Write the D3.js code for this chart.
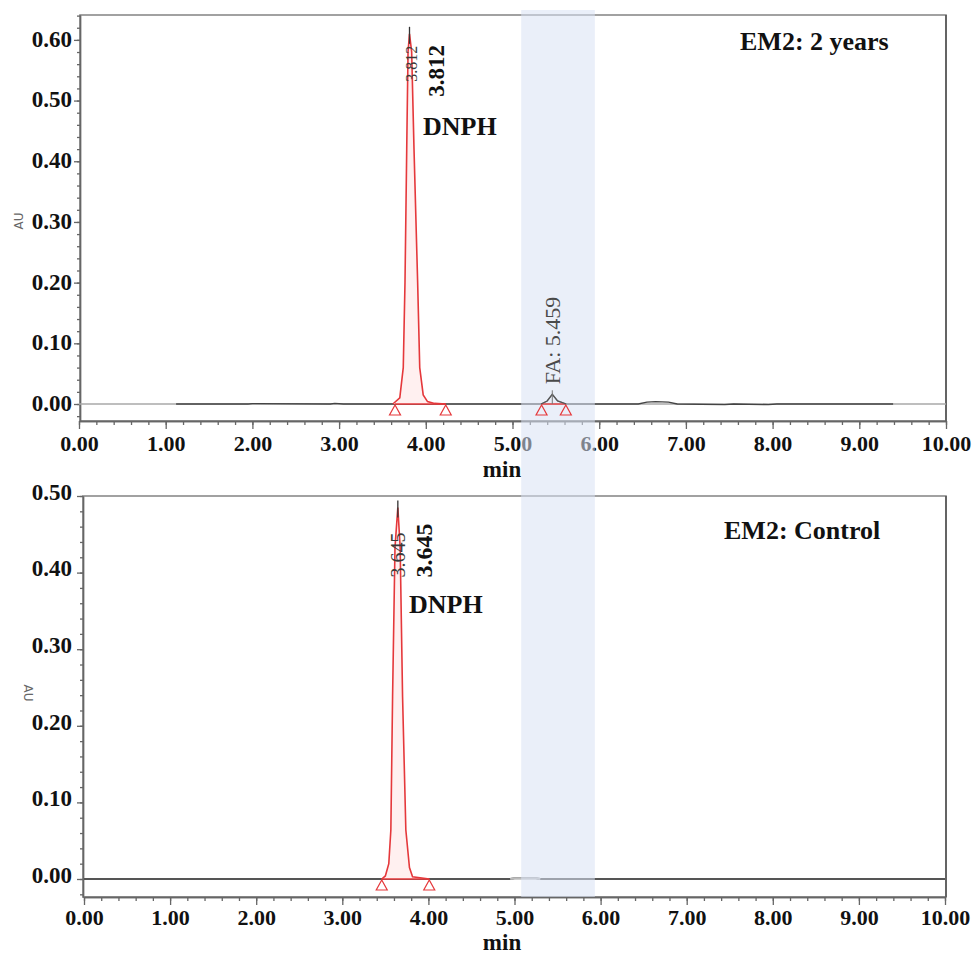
<!DOCTYPE html>
<html>
<head>
<meta charset="utf-8">
<script src="https://cdn.jsdelivr.net/npm/d3@7"></script>
<style>
  body { margin: 0; background: #fff; }
  svg text { font-family: "Liberation Serif", "Times New Roman", serif; }
</style>
</head>
<body>
<svg id="chart" width="973" height="955"></svg>
<script>
// ---- EM2 after 2 years: DNPH peak (integrated, red) ----
const agedPeakTime = [3.62, 3.70, 3.74, 3.76, 3.78, 3.795, 3.812, 3.837, 3.864, 3.906, 3.93, 3.97, 4.02, 4.10, 4.23];
const agedPeakAU   = [0.000, 0.010, 0.060, 0.200, 0.420, 0.580, 0.610, 0.580, 0.420, 0.200, 0.060, 0.015, 0.004, 0.001, 0.000];
const agedPeakLimits = [3.645, 4.23];

// ---- EM2 after 2 years: remaining detector trace (incl. formaldehyde peak) ----
const agedTraceTime = [1.12, 1.95, 2.00, 2.90, 2.95, 3.05, 3.62, 4.23, 5.00, 5.33, 5.40, 5.459, 5.52, 5.62, 6.45, 6.55, 6.65, 6.80, 6.90, 7.45, 7.55, 7.95, 8.05, 9.39];
const agedTraceAU   = [0, 0, 0.0005, 0, 0.001, 0, 0, 0, 0, 0, 0.005, 0.016, 0.005, 0, 0, 0.003, 0.004, 0.003, 0, -0.001, 0, -0.001, 0, 0];
const faPeakTime = 5.459;
const faPeakAU = 0.016;
const faPeakLimits = [5.335, 5.615];

// ---- EM2 control: DNPH peak and baseline ----
const controlPeakTime = [3.458, 3.50, 3.54, 3.564, 3.584, 3.612, 3.645, 3.672, 3.700, 3.738, 3.780, 3.816, 4.01];
const controlPeakAU   = [0.000, 0.004, 0.020, 0.064, 0.238, 0.433, 0.485, 0.433, 0.238, 0.064, 0.015, 0.003, 0.000];
const controlPeakLimits = [3.458, 4.01];
const controlTraceTime = [0, 4.95, 5.00, 5.25, 5.30, 10];
const controlTraceAU   = [0, 0, 0.001, 0.001, 0, 0];

// ---- Axes ----
const xMajorTicks = d3.range(0, 10.001, 1);
const xMinorTicks = d3.range(0, 10.001, 0.2);
const agedYMajor = [0, 0.1, 0.2, 0.3, 0.4, 0.5, 0.6];
const agedYMinor = d3.range(-0.02, 0.641, 0.02);
const controlYMajor = [0, 0.1, 0.2, 0.3, 0.4, 0.5];
const controlYMinor = d3.range(-0.02, 0.501, 0.02);
const highlightWindow = [5.10, 5.95];

const svg = d3.select("#chart");
const fmt = d3.format(".2f");
const RED = "#e5383b";

const panels = [
  {
    title: "EM2: 2 years",
    frame: { left: 80, right: 946, top: 15, bottom: 421 },
    x: d3.scaleLinear().domain([0, 10]).range([79, 946]),
    y: d3.scaleLinear().domain([-0.028, 0.641]).range([421, 15]),
    yMajor: agedYMajor, yMinor: agedYMinor,
    peakTime: agedPeakTime, peakAU: agedPeakAU, limits: agedPeakLimits,
    peakLabel: "3.812", apex: 3.812,
    xLabelDy: 30, minBaseline: 477, yLabelShift: 1,
    titlePos: [740, 50], dnphPos: [423, 135],
    smallSize: 16, smallOffset: 48, boldSize: 23, boldOffset: 63,
    auPos: [23, 221], auRot: -90
  },
  {
    title: "EM2: Control",
    frame: { left: 83, right: 946, top: 496, bottom: 897 },
    x: d3.scaleLinear().domain([0, 10]).range([84, 945]),
    y: d3.scaleLinear().domain([-0.0235, 0.50]).range([897, 496]),
    yMajor: controlYMajor, yMinor: controlYMinor,
    peakTime: controlPeakTime, peakAU: controlPeakAU, limits: controlPeakLimits,
    peakLabel: "3.645", apex: 3.645,
    xLabelDy: 28, minBaseline: 950, yLabelShift: 4,
    titlePos: [724, 539], dnphPos: [409, 613],
    smallSize: 20, smallOffset: 70, boldSize: 24, boldOffset: 70,
    auPos: [24, 693], auRot: 90
  }
];

const overlays = []; // marks drawn above the highlight window

panels.forEach((p, i) => {
  const g = svg.append("g");
  const f = p.frame;

  // frame
  g.append("rect")
    .attr("x", f.left).attr("y", f.top)
    .attr("width", f.right - f.left).attr("height", f.bottom - f.top)
    .attr("fill", "none").attr("stroke", "#8a8a8a").attr("stroke-width", 1.6);
  g.append("line")
    .attr("x1", f.right).attr("x2", f.right).attr("y1", f.top).attr("y2", f.bottom)
    .attr("stroke", "#555").attr("stroke-width", 1.6);

  // x axis: minor + major ticks
  const xMinorAxis = d3.axisBottom(p.x).tickValues(xMinorTicks).tickSize(4).tickFormat("").tickSizeOuter(0);
  const xMajorAxis = d3.axisBottom(p.x).tickValues(xMajorTicks).tickSize(8).tickFormat(fmt).tickSizeOuter(0);
  const gxMinor = g.append("g").attr("transform", `translate(0,${f.bottom})`).call(xMinorAxis);
  const gxMajor = g.append("g").attr("transform", `translate(0,${f.bottom})`).call(xMajorAxis);
  [gxMinor, gxMajor].forEach(ax => {
    ax.select(".domain").attr("stroke", "#666").attr("stroke-width", 1.4);
    ax.selectAll(".tick line").attr("stroke", "#666").attr("stroke-width", 1.3);
  });
  gxMajor.selectAll(".tick text")
    .attr("y", p.xLabelDy).attr("dy", 0)
    .attr("fill", "#111")
    .style("font-size", "22px").style("font-weight", "bold");

  g.append("text")
    .attr("x", 502).attr("y", p.minBaseline)
    .attr("text-anchor", "middle")
    .attr("fill", "#111")
    .style("font-size", "23px").style("font-weight", "bold")
    .text("min");

  // y axis
  const yMinorAxis = d3.axisLeft(p.y).tickValues(p.yMinor).tickSize(3).tickFormat("").tickSizeOuter(0);
  const yMajorAxis = d3.axisLeft(p.y).tickValues(p.yMajor).tickSize(6).tickPadding(i === 0 ? 2 : 5).tickFormat(fmt).tickSizeOuter(0);
  const gyMinor = g.append("g").attr("transform", `translate(${f.left},0)`).call(yMinorAxis);
  const gyMajor = g.append("g").attr("transform", `translate(${f.left},0)`).call(yMajorAxis);
  [gyMinor, gyMajor].forEach(ax => {
    ax.select(".domain").attr("stroke", "#666").attr("stroke-width", 1.4);
    ax.selectAll(".tick line").attr("stroke", "#666").attr("stroke-width", 1.3);
  });
  gyMajor.selectAll(".tick text")
    .attr("dy", "0.32em")
    .attr("transform", `translate(0,${-p.yLabelShift})`)
    .attr("fill", "#111")
    .style("font-size", "23px").style("font-weight", "bold");

  g.append("text")
    .attr("transform", `translate(${p.auPos[0]},${p.auPos[1]}) rotate(${p.auRot})`)
    .attr("text-anchor", "middle")
    .attr("fill", "#666")
    .style("font-family", "'DejaVu Sans', sans-serif")
    .style("font-size", "12px")
    .text("AU");

  const line = d3.line().x(d => p.x(d[0])).y(d => p.y(d[1]));

  // zero line / trace
  if (i === 0) {
    g.append("line")
      .attr("x1", p.x(0)).attr("x2", p.x(10))
      .attr("y1", p.y(0)).attr("y2", p.y(0))
      .attr("stroke", "#a8a8a8").attr("stroke-width", 1.6);
    g.append("path")
      .datum(d3.zip(agedTraceTime, agedTraceAU))
      .attr("d", line)
      .attr("fill", "none").attr("stroke", "#444").attr("stroke-width", 1.3);
  } else {
    g.append("path")
      .datum(d3.zip(controlTraceTime, controlTraceAU))
      .attr("d", line)
      .attr("fill", "none").attr("stroke", "#555").attr("stroke-width", 2.2);
    g.append("path")
      .datum(d3.zip(controlTraceTime.slice(1, 5), controlTraceAU.slice(1, 5)))
      .attr("d", line)
      .attr("fill", "none").attr("stroke", "#bbb").attr("stroke-width", 2.2);
  }

  // integrated DNPH peak
  const peak = d3.zip(p.peakTime, p.peakAU);
  g.append("path")
    .datum(peak)
    .attr("d", line)
    .attr("fill", "#fff0f0").attr("stroke", RED).attr("stroke-width", 1.6);

  // apex marker
  const apexIdx = p.peakTime.indexOf(p.apex);
  const ax0 = p.x(p.apex), ay0 = p.y(p.peakAU[apexIdx]);
  g.append("line")
    .attr("x1", ax0).attr("x2", ax0).attr("y1", ay0 - 7).attr("y2", ay0 + 10)
    .attr("stroke", "#333").attr("stroke-width", 1.3);

  // integration baseline and start/end triangles
  const drawLimits = (target, lim) => {
    target.append("line")
      .attr("x1", p.x(lim[0])).attr("x2", p.x(lim[1]))
      .attr("y1", p.y(0)).attr("y2", p.y(0))
      .attr("stroke", RED).attr("stroke-width", 1.4);
    lim.forEach(t => {
      const cx = p.x(t), cy = p.y(0);
      target.append("path")
        .attr("d", `M${cx},${cy + 1}L${cx - 5.5},${cy + 11}L${cx + 5.5},${cy + 11}Z`)
        .attr("fill", "none").attr("stroke", RED).attr("stroke-width", 1.2);
    });
  };
  drawLimits(g, p.limits);

  // peak labels
  g.append("text")
    .attr("transform", `translate(${ax0 + 7},${ay0 + p.smallOffset}) rotate(-90)`)
    .attr("fill", "#3a3a3a")
    .style("font-size", `${p.smallSize}px`)
    .text(p.peakLabel);
  g.append("text")
    .attr("transform", `translate(${ax0 + 34},${ay0 + p.boldOffset}) rotate(-90)`)
    .attr("fill", "#111")
    .style("font-size", `${p.boldSize}px`).style("font-weight", "bold")
    .text(p.peakLabel);
  g.append("text")
    .attr("x", p.dnphPos[0]).attr("y", p.dnphPos[1])
    .attr("fill", "#111")
    .style("font-size", "26px").style("font-weight", "bold")
    .text("DNPH");

  g.append("text")
    .attr("x", p.titlePos[0]).attr("y", p.titlePos[1])
    .attr("fill", "#111")
    .style("font-size", "26px").style("font-weight", "bold")
    .text(p.title);

  if (i === 0) {
    overlays.push(layer => {
      drawLimits(layer, faPeakLimits);
      const fx = p.x(faPeakTime);
      layer.append("path")
        .datum(d3.zip(agedTraceTime.slice(9, 14), agedTraceAU.slice(9, 14)))
        .attr("d", line)
        .attr("fill", "none").attr("stroke", "#555").attr("stroke-width", 1.3);
      layer.append("line")
        .attr("x1", fx).attr("x2", fx)
        .attr("y1", p.y(faPeakAU) - 4).attr("y2", p.y(0))
        .attr("stroke", "#777").attr("stroke-width", 1);
      layer.append("text")
        .attr("transform", `translate(${fx + 8},${p.y(faPeakAU) - 10}) rotate(-90)`)
        .attr("fill", "#4a4a4a")
        .style("font-size", "22px")
        .text("FA: " + faPeakTime.toFixed(3));
    });
  }
});

// highlighted retention window spanning both chromatograms
const xTop = panels[0].x;
svg.append("rect")
  .attr("x", xTop(highlightWindow[0]))
  .attr("width", xTop(highlightWindow[1]) - xTop(highlightWindow[0]))
  .attr("y", 10).attr("height", 897 - 10)
  .attr("fill", "#d9e2f4").attr("opacity", 0.55);

// formaldehyde annotation stays legible on top of the window
const topLayer = svg.append("g");
overlays.forEach(fn => fn(topLayer));
</script>
</body>
</html>
